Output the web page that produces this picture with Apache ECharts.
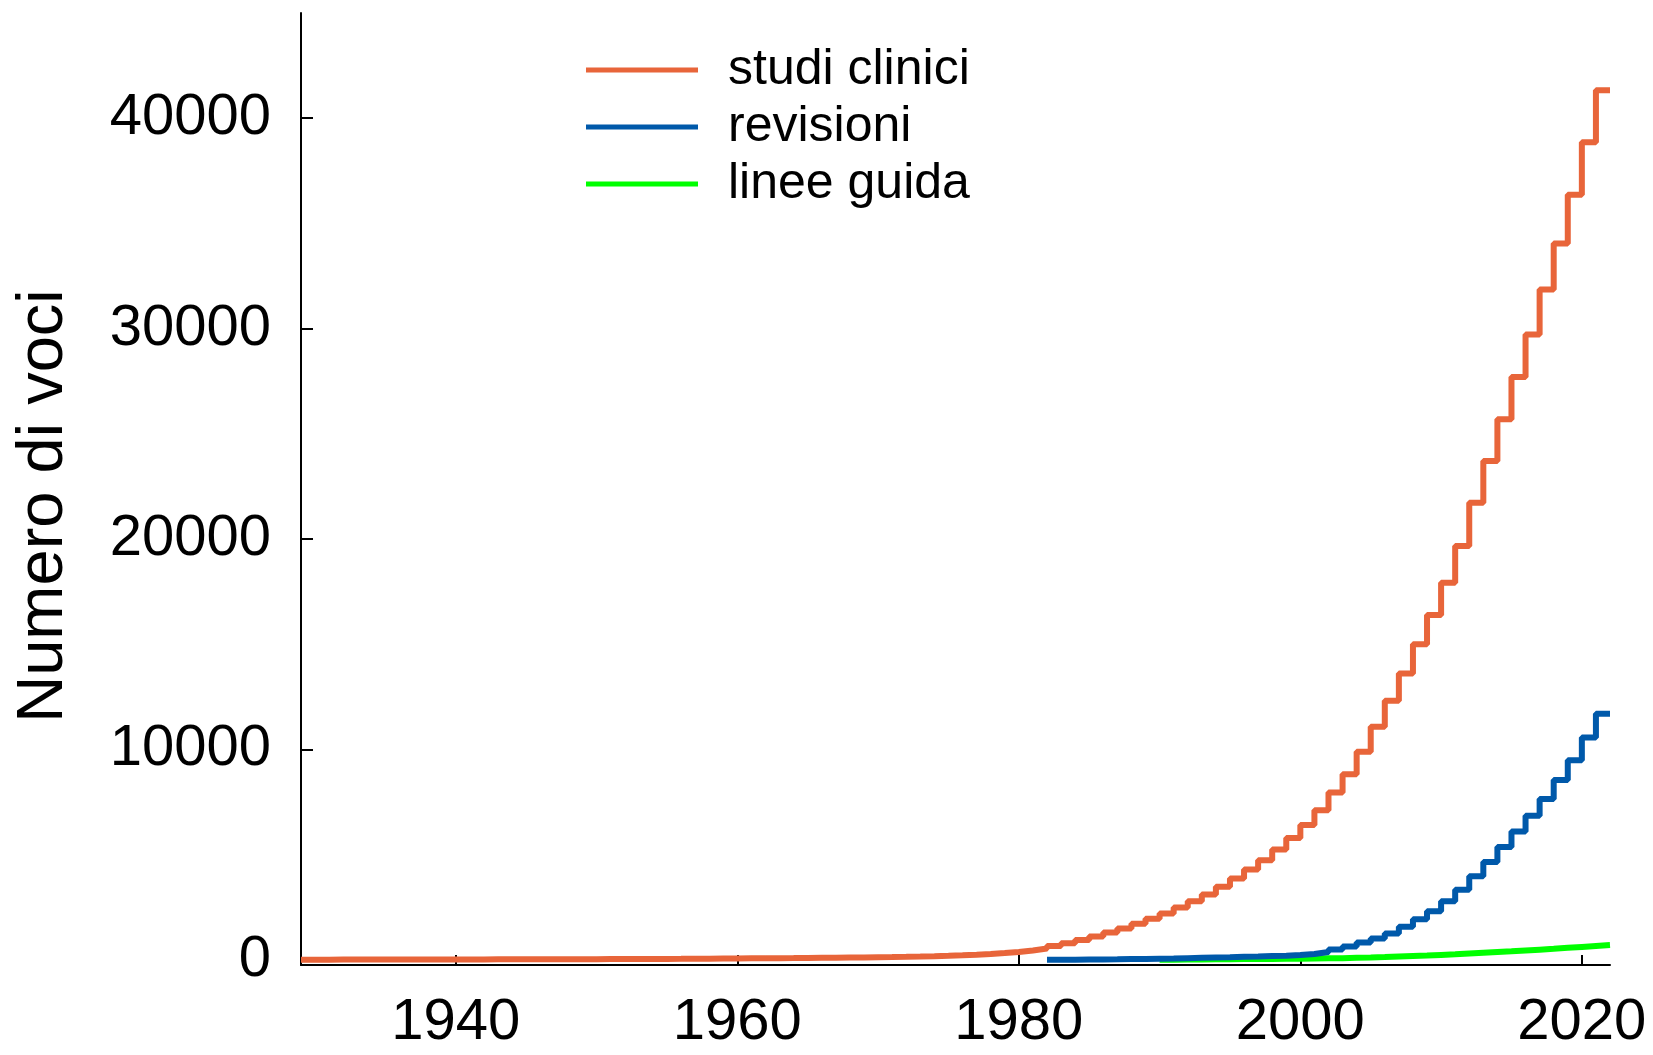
<!DOCTYPE html>
<html>
<head>
<meta charset="utf-8">
<style>
  html, body { margin: 0; padding: 0; background: #fff; }
  #main { width: 1653px; height: 1055px; }
</style>
<script src="https://cdn.jsdelivr.net/npm/echarts@6/dist/echarts.min.js"></script>
</head>
<body>
<div id="main"></div>
<script>
// cumulative counts, one value per year (value of year Y is held until Y+1)
const studiFirstYear = 1929;
const studiClinici = [
  2, 4, 6, 8, 9, 10, 11, 12, 13, 14,                                 // 1929-1938
  15, 16, 17, 18, 19, 20, 21, 22, 24, 26,                            // 1939-1948
  28, 30, 32, 35, 38, 41, 44, 48, 52, 56,                            // 1949-1958
  60, 65, 70, 75, 80, 86, 92, 98, 105, 112,                          // 1959-1968
  120, 128, 138, 150, 165, 185, 210, 240, 275, 315,                  // 1969-1978
  365, 440, 530, 655, 780, 935, 1110, 1300, 1490, 1710,              // 1979-1988
  1945, 2200, 2485, 2785, 3105, 3465, 3865, 4290, 4730, 5240,        // 1989-1998
  5790, 6400, 7110, 7950, 8820, 9890, 11080, 12310, 13610, 15000,    // 1999-2008
  16390, 17920, 19670, 21720, 23700, 25690, 27700, 29720, 31860, 34040, // 2009-2018
  36360, 38860, 41330, 41330                                         // 2019-2022
];

const revisioniFirstYear = 1982;
const revisioni = [
  0, 5, 10, 15, 20, 30, 40, 50, 60, 75,                              // 1982-1991
  90, 105, 120, 140, 155, 175, 190, 220, 270, 365,                   // 1992-2001
  485, 635, 815, 1010, 1250, 1570, 1920, 2310, 2785, 3330,           // 2002-2011
  3965, 4650, 5360, 6100, 6850, 7640, 8540, 9480, 10560, 11690,      // 2012-2021
  11690                                                              // 2022
];

const lineeGuidaFirstYear = 1990;
const lineeGuida = [
  5, 10, 15, 20, 25, 30, 35, 40, 45, 50,                             // 1990-1999
  55, 65, 75, 90, 105, 125, 150, 175, 200, 230,                      // 2000-2009
  260, 295, 330, 365, 400, 440, 480, 520, 565, 610,                  // 2010-2019
  655, 700, 700                                                      // 2020-2022
];

const xTicks = [1940, 1960, 1980, 2000, 2020];
const yTicks = [0, 10000, 20000, 30000, 40000];

const fontName = 'Liberation Sans, Arial, Helvetica, sans-serif';

function toPairs(firstYear, values) {
  return values.map((v, i) => [firstYear + i, v]);
}

var chartDom = document.getElementById('main');
var myChart = echarts.init(chartDom);
var option;

option = {
  animation: false,
  backgroundColor: '#ffffff',
  grid: {
    left: 301,
    right: 43,
    top: 13,
    bottom: 90
  },
  legend: {
    orient: 'vertical',
    left: 581,
    top: 40,
    itemWidth: 112,
    itemHeight: 5,
    itemGap: 7,
    icon: 'rect',
    data: ['studi clinici', 'revisioni', 'linee guida'],
    textStyle: {
      fontFamily: fontName,
      fontSize: 50,
      lineHeight: 50,
      color: '#000',
      padding: [0, 0, 0, 25]
    }
  },
  xAxis: {
    type: 'value',
    min: 1929,
    max: 2022,
    axisLine: { onZero: false, lineStyle: { color: '#000', width: 2 } },
    axisTick: {
      inside: true,
      length: 10,
      customValues: xTicks,
      lineStyle: { color: '#000', width: 2 }
    },
    axisLabel: {
      customValues: xTicks,
      formatter: v => String(v),
      margin: 29,
      fontFamily: fontName,
      fontSize: 58,
      color: '#000'
    },
    splitLine: { show: false }
  },
  yAxis: {
    type: 'value',
    min: -250,
    max: 45000,
    name: 'Numero di voci',
    nameLocation: 'middle',
    nameGap: 224,
    nameTextStyle: {
      fontFamily: fontName,
      fontSize: 65,
      color: '#000',
      padding: [0, 34, 0, 0]
    },
    axisLine: { show: true, onZero: false, lineStyle: { color: '#000', width: 2 } },
    axisTick: {
      show: true,
      inside: true,
      length: 12,
      customValues: yTicks,
      lineStyle: { color: '#000', width: 2 }
    },
    axisLabel: {
      customValues: yTicks,
      formatter: v => String(v),
      margin: 30,
      fontFamily: fontName,
      fontSize: 58,
      color: '#000'
    },
    splitLine: { show: false }
  },
  series: [
    {
      name: 'studi clinici',
      type: 'line',
      step: 'end',
      symbol: 'none',
      z: 3,
      data: toPairs(studiFirstYear, studiClinici),
      lineStyle: { color: '#E8653A', width: 6 },
      itemStyle: { color: '#E8653A' }
    },
    {
      name: 'revisioni',
      type: 'line',
      step: 'end',
      symbol: 'none',
      z: 5,
      data: toPairs(revisioniFirstYear, revisioni),
      lineStyle: { color: '#0059AA', width: 6 },
      itemStyle: { color: '#0059AA' }
    },
    {
      name: 'linee guida',
      type: 'line',
      step: 'end',
      symbol: 'none',
      z: 4,
      data: toPairs(lineeGuidaFirstYear, lineeGuida),
      lineStyle: { color: '#00FF00', width: 6 },
      itemStyle: { color: '#00FF00' }
    }
  ]
};

option && myChart.setOption(option);
</script>
</body>
</html>
